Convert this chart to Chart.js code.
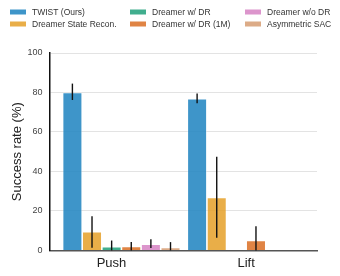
<!DOCTYPE html>
<html>
<head>
<meta charset="utf-8">
<script src="https://cdn.jsdelivr.net/npm/chart.js@4/dist/chart.umd.min.js"></script>
<style>
  html, body { margin: 0; padding: 0; background: #fff; }
  #grafico { display: block; }
</style>
</head>
<body>
<canvas id="grafico" width="340" height="276"></canvas>
<script>
const tareas = ["Push", "Lift"];
const tareaX = [0, 1];
const etiquetaX = [-0.08, 1];   // where the task names sit under the groups
const metodos = ["TWIST (Ours)", "Dreamer State Recon.", "Dreamer w/ DR", "Dreamer w/ DR (1M)", "Dreamer w/o DR", "Asymmetric SAC"];
const colores = ["rgba(33,133,193,0.87)", "rgba(229,160,40,0.85)", "rgba(32,160,122,0.85)", "rgba(218,110,35,0.85)", "rgba(214,130,195,0.85)", "rgba(214,156,114,0.85)"];

// success rate (%) per method: [Push, Lift]
const twist = [80, 76.8];
const stateRecon = [9.5, 26.8];
const dreamerDR = [1.9, 0];
const dreamerDR1M = [2, 5];
const dreamerSinDR = [3.2, 0];
const asymSAC = [1.5, 0];

// error bars [low, high]
const errTwist = [[76.2, 84.5], [74.5, 79.5]];
const errStateRecon = [[1.3, 17.3], [6.4, 47.4]];
const errDreamerDR = [[0, 5], null];
const errDreamerDR1M = [[0, 4.2], [0, 12.2]];
const errDreamerSinDR = [[1.2, 5.7], null];
const errAsymSAC = [[0, 4.2], null];

const yTicks = [0, 20, 40, 60, 80, 100];

const valores = [twist, stateRecon, dreamerDR, dreamerDR1M, dreamerSinDR, asymSAC];
const errores = [errTwist, errStateRecon, errDreamerDR, errDreamerDR1M, errDreamerSinDR, errAsymSAC];

const fuente = "'Liberation Sans', Arial, sans-serif";

const datasets = metodos.map((m, i) => ({
    label: m,
    data: valores[i].map((v, j) => ({ x: tareaX[j], y: v })),
    backgroundColor: colores[i],
    borderColor: "rgba(255,255,255,0.5)",
    borderWidth: 0.8,
    errores: errores[i]
}));

// barras de error
const pluginErrores = {
    id: "errores",
    afterDatasetsDraw(chart) {
        const ctx = chart.ctx;
        const y = chart.scales.y;
        ctx.save();
        ctx.strokeStyle = "#111";
        ctx.lineWidth = 1.4;
        chart.data.datasets.forEach((ds, i) => {
            const meta = chart.getDatasetMeta(i);
            meta.data.forEach((bar, j) => {
                const e = ds.errores[j];
                if (!e) return;
                ctx.beginPath();
                ctx.moveTo(bar.x, y.getPixelForValue(e[0]));
                ctx.lineTo(bar.x, y.getPixelForValue(e[1]));
                ctx.stroke();
            });
        });
        ctx.restore();
    }
};

// leyenda en 3 columnas (orden por columnas)
const pluginLeyenda = {
    id: "leyenda",
    afterDraw(chart) {
        const ctx = chart.ctx;
        const colX = [10, 130, 245];
        const filaY = [12, 24];
        ctx.save();
        ctx.font = "8.5px " + fuente;
        ctx.textBaseline = "middle";
        chart.data.datasets.forEach((ds, i) => {
            const x = colX[Math.floor(i / 2)];
            const yy = filaY[i % 2];
            ctx.fillStyle = ds.backgroundColor;
            ctx.fillRect(x, yy - 2.5, 16, 5);
            ctx.fillStyle = "#333";
            ctx.fillText(ds.label, x + 22, yy + 0.5);
        });
        ctx.restore();
    }
};

new Chart(document.getElementById("grafico"), {
    type: "bar",
    data: { datasets: datasets },
    options: {
        responsive: false,
        animation: false,
        categoryPercentage: 0.944,
        barPercentage: 1,
        layout: { padding: { top: 53, right: 23, left: 8, bottom: 0 } },
        plugins: { legend: { display: false }, tooltip: { enabled: false } },
        scales: {
            x: {
                type: "linear",
                offset: false,
                min: -0.576,
                max: 1.568,
                afterBuildTicks(scale) {
                    scale.ticks = etiquetaX.map(v => ({ value: v }));
                },
                grid: { display: false, drawTicks: false, offset: false },
                border: { display: true, color: "#555", width: 1.5 },
                ticks: {
                    padding: 5,
                    color: "#222",
                    font: { family: fuente, size: 13 },
                    callback: (v, i) => tareas[i]
                }
            },
            y: {
                min: 0,
                max: 100,
                afterBuildTicks(scale) {
                    scale.ticks = yTicks.map(v => ({ value: v }));
                },
                grid: { color: "#e3e3e3", lineWidth: 1, drawTicks: false },
                border: { display: true, color: "#111", width: 1.5 },
                title: {
                    display: true,
                    text: "Success rate (%)",
                    color: "#222",
                    font: { family: fuente, size: 13 },
                    padding: { top: 2, bottom: -5 }
                },
                ticks: {
                    padding: 7,
                    color: "#444",
                    font: { family: fuente, size: 9 }
                }
            }
        }
    },
    plugins: [pluginErrores, pluginLeyenda]
});
</script>
</body>
</html>
